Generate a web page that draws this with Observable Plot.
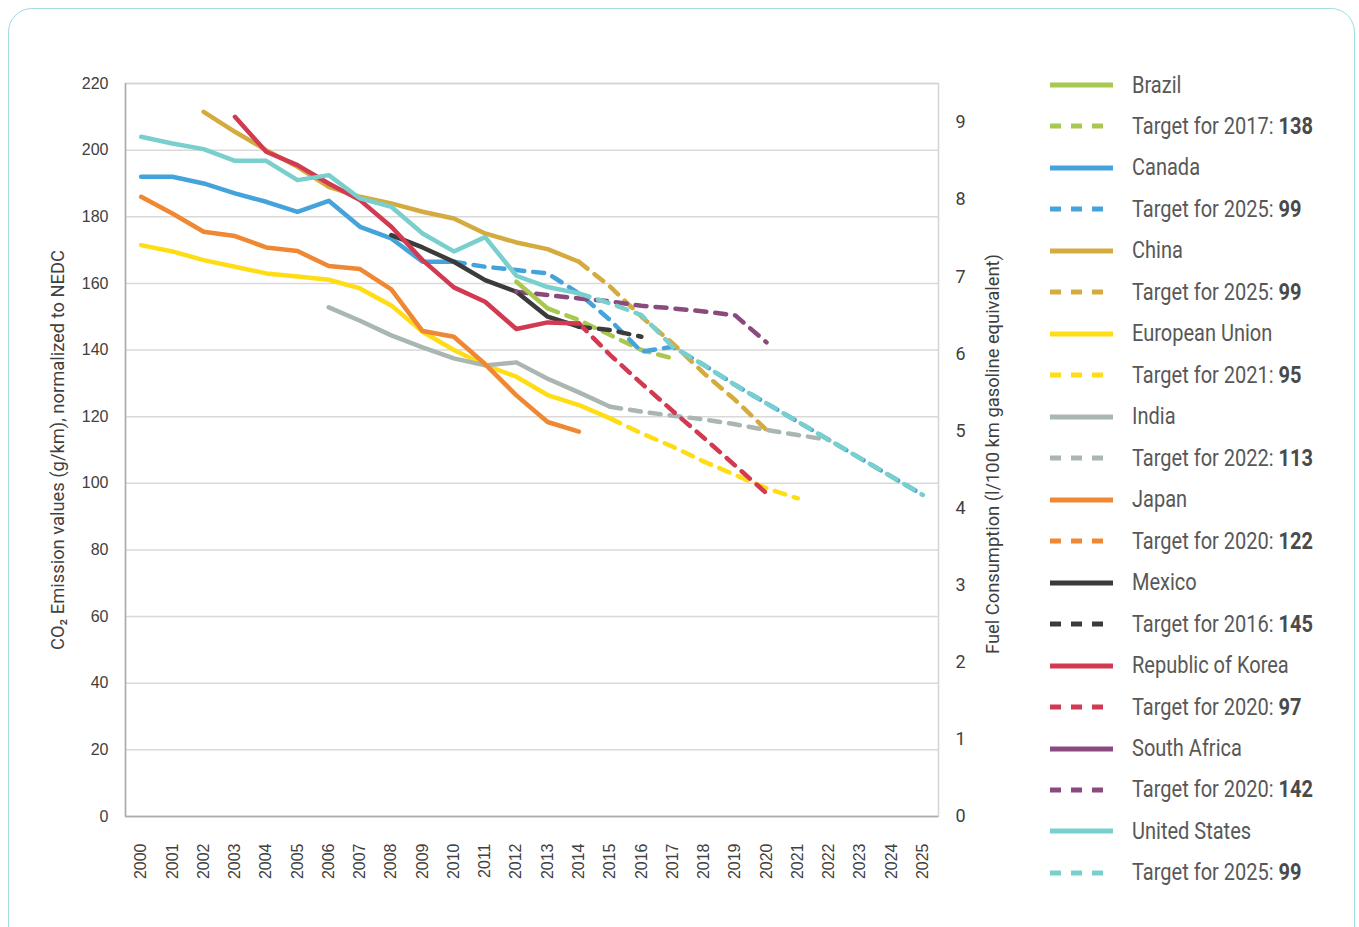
<!DOCTYPE html>
<html><head><meta charset="utf-8">
<script src="https://cdn.jsdelivr.net/npm/d3@7"></script>
<script src="https://cdn.jsdelivr.net/npm/@observablehq/plot@0.6"></script>
<style>
body{margin:0;background:#fff;width:1359px;height:927px;overflow:hidden;position:relative;font-family:"Liberation Sans",Arial,sans-serif;}
#frame{position:absolute;left:8px;top:8px;width:1347px;height:980px;border:1.5px solid #A3DCDD;border-radius:24px;box-sizing:border-box;}
#chart{position:absolute;left:0;top:0;}
#legend{position:absolute;left:1050px;top:0;}
.row{position:absolute;left:0;height:30px;display:flex;align-items:center;white-space:nowrap;font-family:Roboto,sans-serif;font-size:23px;color:#585858}
.row svg{margin-right:19px;flex:none}
.row span{display:inline-block;transform:scaleX(0.87);transform-origin:left center}
.row b{color:#4a4a4a;font-weight:700}
</style></head><body>
<div id="frame"></div><div id="chart"></div><div id="legend"></div>
<script>
const _ = null;
const years = [2000,2001,2002,2003,2004,2005,2006,2007,2008,2009,2010,2011,2012,2013,2014,2015,2016,2017,2018,2019,2020,2021,2022,2023,2024,2025];
const yTicks = [0,20,40,60,80,100,120,140,160,180,200,220];
const fuelTicks = [0,1,2,3,4,5,6,7,8,9];
const fuelFactor = 23.14; // g/km per l/100km on the drawn right axis

const seriesNames = ["Brazil","Canada","China","European Union","India","Japan","Mexico","Republic of Korea","South Africa","United States"];
const seriesColors = ["#A9C84F","#45A3DC","#D3AB3E","#FFDD15","#A9B6B2","#EF8733","#3B3B3B","#D13A50","#8B4A7D","#78CFCE"];
const targetYears = [2017,2025,2025,2021,2022,2020,2016,2020,2020,2025];
const targetValues = [138,99,99,95,113,122,145,97,142,99];

const brazilActual = [_,_,_,_,_,_,_,_,_,_,_,_,160.5,152.5,_,_,_,_,_,_,_,_,_,_,_,_];
const brazilTarget = [_,_,_,_,_,_,_,_,_,_,_,_,_,152.5,149,144.5,140,137.5,_,_,_,_,_,_,_,_];
const canadaActual = [192,192,190,187,184.5,181.5,184.8,177,173.5,166.5,166.5,_,_,_,_,_,_,_,_,_,_,_,_,_,_,_];
const canadaTarget = [_,_,_,_,_,_,_,_,_,_,166.5,165,164,163,157,149,139.5,141,135.5,129.5,124,118.5,113,107.5,102,96.5];
const chinaActual = [_,_,211.5,205.5,200,195,189,186,184,181.5,179.5,175,172.3,170.3,166.5,_,_,_,_,_,_,_,_,_,_,_];
const chinaTarget = [_,_,_,_,_,_,_,_,_,_,_,_,_,_,166.5,159,150,142,133,125,116,_,_,_,_,_];
const euActual = [171.5,169.6,167,165,163,162.1,161.1,158.5,153.4,145.5,140,135.5,132,126.5,123.5,119.5,_,_,_,_,_,_,_,_,_,_];
const euTarget = [_,_,_,_,_,_,_,_,_,_,_,_,_,_,_,119.5,115,111,106.5,102.5,98.5,95.5,_,_,_,_];
const indiaActual = [_,_,_,_,_,_,152.8,148.8,144.4,140.8,137.5,135.4,136.3,131.4,127.3,123,_,_,_,_,_,_,_,_,_,_];
const indiaTarget = [_,_,_,_,_,_,_,_,_,_,_,_,_,_,_,123,121.5,120.3,119.2,117.7,116,114.5,113,_,_,_];
const japanActual = [186,181,175.5,174.2,170.8,169.7,165.2,164.3,158.2,145.7,144,135.8,126.4,118.4,115.5,_,_,_,_,_,_,_,_,_,_,_];
const japanTarget = [_,_,_,_,_,_,_,_,_,_,_,_,_,_,_,_,_,_,_,_,_,_,_,_,_,_];
const mexicoActual = [_,_,_,_,_,_,_,_,174.5,170.8,166.5,161,157.5,150,147,_,_,_,_,_,_,_,_,_,_,_];
const mexicoTarget = [_,_,_,_,_,_,_,_,_,_,_,_,_,_,147,146,144,_,_,_,_,_,_,_,_,_];
const koreaActual = [_,_,_,210,199.5,195.5,190,185,177,167,158.8,154.5,146.3,148.3,148,_,_,_,_,_,_,_,_,_,_,_];
const koreaTarget = [_,_,_,_,_,_,_,_,_,_,_,_,_,_,148,138.5,130,121.7,113.6,105.3,97,_,_,_,_,_];
const saActual = [_,_,_,_,_,_,_,_,_,_,_,_,157.5,_,_,_,_,_,_,_,_,_,_,_,_,_];
const saTarget = [_,_,_,_,_,_,_,_,_,_,_,_,157.5,156.5,155.5,154.6,153.3,152.5,151.6,150.4,142.3,_,_,_,_,_];
const usActual = [204,202,200.3,196.8,196.8,191,192.5,185.5,183,175,169.6,173.9,162.3,158.9,157,_,_,_,_,_,_,_,_,_,_,_];
const usTarget = [_,_,_,_,_,_,_,_,_,_,_,_,_,_,157,154,150.5,141,135.5,129.5,124,118.5,113,107.5,102,96.5];

const actuals = [brazilActual,canadaActual,chinaActual,euActual,indiaActual,japanActual,mexicoActual,koreaActual,saActual,usActual];
const targets = [brazilTarget,canadaTarget,chinaTarget,euTarget,indiaTarget,japanTarget,mexicoTarget,koreaTarget,saTarget,usTarget];

const leftTitle = "CO₂ Emission values (g/km), normalized to NEDC";
const rightTitle = "Fuel Consumption (l/100 km gasoline equivalent)";

const toRows = arr => years.map((yr,i)=>({year:yr, value:arr[i]})).filter(d=>d.value!=null);
const dash = "11,9";
const lineMarks = [];
seriesNames.forEach((name,i)=>{
  lineMarks.push(Plot.line(toRows(targets[i]), {x:"year", y:"value", stroke:seriesColors[i], strokeWidth:4.5, strokeDasharray:dash}));
});
seriesNames.forEach((name,i)=>{
  lineMarks.push(Plot.line(toRows(actuals[i]), {x:"year", y:"value", stroke:seriesColors[i], strokeWidth:4.5}));
});

const cond = "Roboto, sans-serif";
const chart = Plot.plot({
  width: 1030, height: 900,
  marginLeft: 125, marginRight: 92, marginTop: 83, marginBottom: 84,
  x: {type:"linear", domain:[1999.5, 2025.5]},
  y: {domain:[0,220]},
  style: {fontFamily:"Liberation Sans, Arial, sans-serif", fontSize:"16px", color:"#404040", background:"transparent"},
  marks: [
    Plot.gridY(yTicks, {stroke:"#D9D9D9", strokeOpacity:1, strokeWidth:1.5}),
    Plot.frame({stroke:"#D4D4D4", strokeWidth:1.5}),
    Plot.ruleX([1999.5], {stroke:"#ABABAB", strokeWidth:1.5}),
    Plot.ruleY([0], {stroke:"#ABABAB", strokeWidth:1.5}),
    Plot.axisY(yTicks, {tickSize:0, tickPadding:17, label:null, fontSize:16}),
    Plot.axisY(fuelTicks.map(v=>v*fuelFactor), {anchor:"right", tickSize:0, tickPadding:17, label:null, tickFormat:d=>String(Math.round(d/fuelFactor)), fontFamily:cond, fontSize:18}),
    Plot.axisX(years, {tickSize:0, tickPadding:27, tickRotate:-90, label:null, tickFormat:d=>String(d), fontSize:16}),
    ...lineMarks,
    Plot.text([leftTitle], {frameAnchor:"left", rotate:-90, dx:-67, fontFamily:cond, fontSize:18.5, fill:"#404040"}),
    Plot.text([rightTitle], {frameAnchor:"right", rotate:-90, dx:55, dy:4, fontFamily:cond, fontSize:18.5, fill:"#404040"})
  ]
});
document.getElementById("chart").appendChild(chart);
// condense the axis titles to the reference's length, keeping them centred on the plot
d3.select(chart).selectAll("text").filter(function(){ return this.textContent===leftTitle || this.textContent===rightTitle; })
  .attr("text-anchor", "start").attr("x", -200)
  .attr("textLength", 400).attr("lengthAdjust", "spacingAndGlyphs");

// Legend
const legend = document.getElementById("legend");
let row = 0;
seriesNames.forEach((name,i)=>{
  [false,true].forEach(isTarget=>{
    const cy = 85 + row*41.47;
    const div = document.createElement("div");
    div.className = "row";
    div.style.top = (cy-15)+"px";
    const svg = `<svg width="63" height="10"><line x1="0" x2="63" y1="5" y2="5" stroke="${seriesColors[i]}" stroke-width="5" ${isTarget?`stroke-dasharray="11,10"`:""}/></svg>`;
    div.innerHTML = svg + (isTarget ? `<span>Target for ${targetYears[i]}: <b>${targetValues[i]}</b></span>` : `<span>${name}</span>`);
    legend.appendChild(div);
    row++;
  });
});
</script></body></html>
